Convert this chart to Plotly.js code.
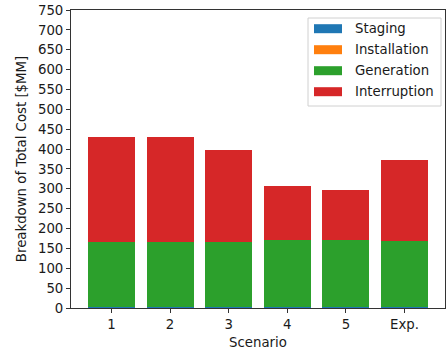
<!DOCTYPE html>
<html>
<head>
<meta charset="utf-8">
<script src="https://cdn.plot.ly/plotly-3.0.1.min.js"></script>
<style>html,body{margin:0;padding:0;background:#fff;}#chart{width:446px;height:354px;}</style>
</head>
<body>
<div id="chart"></div>
<script>
const scenarios = ["1", "2", "3", "4", "5", "Exp."];
const staging = [1.5, 1.5, 1.5, 1.5, 1.5, 1.5];
const installation = [0.5, 0.5, 0.5, 0.5, 0.5, 0.5];
const generation = [165, 165, 165, 170, 170, 167];
const interruption = [263, 263, 231, 134, 124, 204];
const seriesNames = ["Staging", "Installation", "Generation", "Interruption"];
const seriesColors = ["#1f77b4", "#ff7f0e", "#2ca02c", "#d62728"];
const yTicks = [0,50,100,150,200,250,300,350,400,450,500,550,600,650,700,750];

const xIdx = scenarios.map((_, i) => i);
const seriesData = [staging, installation, generation, interruption];
const traces = seriesData.map((vals, k) => ({
  type: "bar",
  x: xIdx,
  y: vals,
  name: seriesNames[k],
  marker: {color: seriesColors[k], line: {width: 0}},
  width: 0.8,
  showlegend: false
}));

// plot area in pixels: x 71..445, y 10..308
const W = 446, H = 354, L = 71, R = 1, T = 10, B = 46;
const pw = W - L - R, ph = H - T - B;
const px = v => (v - L) / pw;
const py = v => (H - B - v) / ph;

const font = {family: "DejaVu Sans", size: 13.3, color: "#1a1a1a"};
const shapes = [{
  type: "rect", xref: "paper", yref: "paper",
  x0: px(308), x1: px(441), y0: py(106), y1: py(18),
  line: {color: "#d0d0d0", width: 1}, fillcolor: "rgba(255,255,255,0.85)", layer: "above"
}];
const annotations = [];
seriesNames.forEach((name, k) => {
  const cy = 28.7 + k * 21;
  shapes.push({
    type: "rect", xref: "paper", yref: "paper",
    x0: px(314), x1: px(342), y0: py(cy + 4.5), y1: py(cy - 4.5),
    line: {width: 0}, fillcolor: seriesColors[k], layer: "above"
  });
  annotations.push({
    xref: "paper", yref: "paper", x: px(353), y: py(cy),
    xanchor: "left", yanchor: "middle", showarrow: false,
    text: name, font: font
  });
});

const layout = {
  barmode: "stack",
  width: W, height: H,
  margin: {l: L, r: R, t: T, b: B},
  paper_bgcolor: "#fff", plot_bgcolor: "#fff",
  font: font,
  showlegend: false,
  shapes: shapes,
  annotations: annotations,
  xaxis: {
    range: [-0.69, 5.69],
    tickmode: "array", tickvals: xIdx, ticktext: scenarios,
    showline: true, linecolor: "#333", linewidth: 1, mirror: true,
    ticks: "outside", ticklen: 4, tickcolor: "#333",
    showgrid: false, zeroline: false,
    title: {text: "Scenario", font: font, standoff: 6}
  },
  yaxis: {
    range: [0, 750],
    tickmode: "array", tickvals: yTicks,
    showline: true, linecolor: "#333", linewidth: 1, mirror: true,
    ticks: "outside", ticklen: 4, tickcolor: "#333",
    showgrid: false, zeroline: false,
    title: {text: "Breakdown of Total Cost [$MM]", font: font, standoff: 8}
  }
};
Plotly.newPlot("chart", traces, layout, {staticPlot: true, displayModeBar: false});
</script>
</body>
</html>
